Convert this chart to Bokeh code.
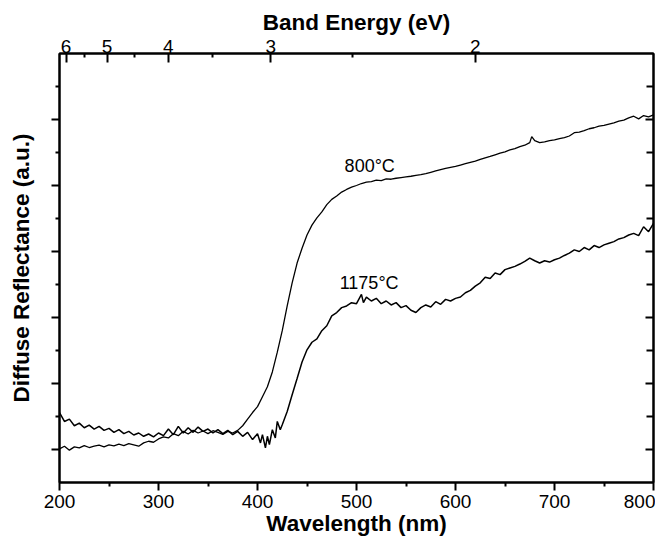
from bokeh.plotting import figure
from bokeh.models import LinearAxis, FixedTicker, Range1d, Label
from bokeh.embed import file_html
from bokeh.resources import INLINE

# ---------------- data ----------------
wl_800 = [200, 205, 210, 215, 220, 225, 230, 235, 240, 245, 250, 255, 260, 265, 270, 275, 280, 285, 290, 295,
          300, 305, 310, 315, 320, 325, 330, 335, 340, 345, 350, 355, 360, 365, 370, 375, 380, 385, 390, 395,
          400, 405, 410, 415, 420, 425, 430, 435, 440, 445, 450, 455, 460, 465, 470, 475, 480, 485, 490, 495,
          500, 505, 510, 515, 520, 525, 530, 535, 540, 545, 550, 555, 560, 565, 570, 575, 580, 585, 590, 595,
          600, 605, 610, 615, 620, 625, 630, 635, 640, 645, 650, 655, 660, 665, 670, 675, 677, 680, 685, 690,
          695, 700, 705, 710, 715, 720, 725, 730, 735, 740, 745, 750, 755, 760, 765, 770, 775, 780, 785, 790,
          795, 800]
refl_800 = [1.02, 1.10, 0.98, 1.08, 1.05, 1.12, 1.06, 1.10, 1.13, 1.08, 1.14, 1.11, 1.16, 1.12, 1.18, 1.14, 1.10, 1.20, 1.25, 1.22,
            1.32, 1.38, 1.35, 1.48, 1.42, 1.55, 1.47, 1.58, 1.50, 1.56, 1.48, 1.57, 1.52, 1.46, 1.55, 1.50, 1.58, 1.72, 1.92, 2.12,
            2.30, 2.60, 2.90, 3.35, 3.95, 4.60, 5.35, 6.05, 6.65, 7.10, 7.50, 7.80, 8.02, 8.20, 8.42, 8.58, 8.68, 8.80, 8.88, 8.95,
            9.00, 9.06, 9.10, 9.12, 9.16, 9.15, 9.20, 9.19, 9.22, 9.24, 9.26, 9.28, 9.31, 9.33, 9.36, 9.40, 9.44, 9.48, 9.52, 9.55,
            9.58, 9.62, 9.66, 9.70, 9.74, 9.79, 9.84, 9.88, 9.93, 9.98, 10.02, 10.08, 10.12, 10.18, 10.22, 10.30, 10.48, 10.36, 10.30, 10.32,
            10.36, 10.38, 10.42, 10.45, 10.50, 10.60, 10.62, 10.66, 10.72, 10.75, 10.80, 10.82, 10.86, 10.90, 10.95, 10.98, 11.05, 11.10, 11.02, 11.12,
            11.08, 11.14]

wl_1175 = [200, 205, 210, 215, 220, 225, 230, 235, 240, 245, 250, 255, 260, 265, 270, 275, 280, 285, 290, 295,
           300, 305, 310, 315, 320, 325, 330, 335, 340, 345, 350, 355, 360, 365, 370, 375, 380, 385, 390, 395,
           400, 403, 405, 408, 410, 412, 415, 418, 420, 423, 425, 430, 435, 440, 445, 450, 455, 460, 465, 470,
           475, 480, 485, 490, 495, 500, 505, 507, 510, 515, 520, 525, 530, 535, 540, 545, 550, 555, 560, 565,
           570, 575, 580, 585, 590, 595, 600, 605, 610, 615, 620, 625, 630, 635, 640, 645, 650, 655, 660, 665,
           670, 675, 680, 685, 690, 695, 700, 705, 710, 715, 720, 725, 730, 735, 740, 745, 750, 755, 760, 765,
           770, 775, 780, 785, 790, 795, 800]
refl_1175 = [2.12, 1.85, 1.92, 1.72, 1.80, 1.66, 1.74, 1.62, 1.70, 1.58, 1.64, 1.52, 1.60, 1.48, 1.55, 1.44, 1.50, 1.40, 1.47, 1.38,
             1.50, 1.42, 1.62, 1.45, 1.70, 1.50, 1.66, 1.52, 1.68, 1.55, 1.62, 1.50, 1.60, 1.48, 1.58, 1.45, 1.55, 1.40, 1.52, 1.30,
             1.48, 1.20, 1.45, 1.05, 1.40, 1.15, 1.60, 1.35, 1.85, 1.60, 1.75, 2.15, 2.66, 3.15, 3.65, 4.02, 4.25, 4.35, 4.60, 4.75,
             5.05, 5.15, 5.30, 5.35, 5.45, 5.42, 5.70, 5.45, 5.62, 5.50, 5.58, 5.42, 5.50, 5.38, 5.45, 5.30, 5.36, 5.22, 5.15, 5.30,
             5.38, 5.32, 5.48, 5.40, 5.55, 5.50, 5.58, 5.62, 5.75, 5.82, 5.95, 6.05, 6.22, 6.18, 6.35, 6.30, 6.45, 6.50, 6.55, 6.62,
             6.70, 6.80, 6.72, 6.65, 6.72, 6.68, 6.75, 6.80, 6.88, 6.95, 7.05, 7.00, 7.12, 7.05, 7.18, 7.12, 7.20, 7.25, 7.30, 7.38,
             7.42, 7.50, 7.55, 7.48, 7.75, 7.60, 7.85]

wl_ticks = [200, 300, 400, 500, 600, 700, 800]
wl_minor = [250, 350, 450, 550, 650, 750]
ev_ticks = [6, 5, 4, 3, 2]
ev_minor = [5.5, 4.5, 3.5, 2.5]
y_major = [1, 3, 5, 7, 9, 11]
y_minor = [2, 4, 6, 8, 10, 12]

labels = ["800\u00b0C", "1175\u00b0C"]
label_x = [488, 483]
label_y = [9.58, 6.05]

FONT = "Liberation Sans"

p = figure(width=655, height=538, output_backend="svg", toolbar_location=None,
           x_range=Range1d(200, 800), y_range=Range1d(0, 13),
           x_axis_location=None, y_axis_location=None,
           min_border_left=59, min_border_right=2, min_border_top=53, min_border_bottom=56)
p.xgrid.visible = False
p.ygrid.visible = False
p.outline_line_color = "black"
p.outline_line_width = 2
p.background_fill_color = "white"
p.border_fill_color = "white"

p.line(wl_800, refl_800, line_color="black", line_width=1.3)
p.line(wl_1175, refl_1175, line_color="black", line_width=1.5)

def style(ax):
    ax.axis_line_width = 2
    ax.major_tick_line_width = 2
    ax.minor_tick_line_width = 2
    ax.major_label_text_font = FONT
    ax.major_label_text_font_size = "19px"
    ax.major_label_text_color = "black"
    ax.axis_label_text_font = FONT
    ax.axis_label_text_font_style = "bold"
    ax.axis_label_text_font_size = "22.5px"
    ax.axis_label_text_color = "black"

# bottom
xb = LinearAxis(axis_label="Wavelength (nm)",
                ticker=FixedTicker(ticks=wl_ticks, minor_ticks=wl_minor))
style(xb)
xb.major_tick_out = 8
xb.major_tick_in = 0
xb.minor_tick_out = 4
xb.minor_tick_in = 0
xb.major_label_standoff = 4
xb.axis_label_standoff = 0
p.add_layout(xb, "below")

# top: band energy
top_pos = [1240.0 / e for e in ev_ticks]
top_minor = [1240.0 / e for e in ev_minor]
xt = LinearAxis(axis_label="Band Energy (eV)",
                ticker=FixedTicker(ticks=top_pos, minor_ticks=top_minor))
xt.major_label_overrides = {pos: str(e) for pos, e in zip(top_pos, ev_ticks)}
style(xt)
xt.major_tick_out = 0
xt.major_tick_in = 9
xt.minor_tick_out = 0
xt.minor_tick_in = 4
xt.major_label_standoff = 1
xt.axis_label_standoff = 2
p.add_layout(xt, "above")

# left (no tick labels)
yl = LinearAxis(axis_label="Diffuse Reflectance (a.u.)",
                ticker=FixedTicker(ticks=y_major, minor_ticks=y_minor))
style(yl)
yl.major_label_overrides = {t: "" for t in y_major}
yl.major_tick_out = 8
yl.major_tick_in = 0
yl.minor_tick_out = 4
yl.minor_tick_in = 0
yl.major_label_standoff = 0
yl.axis_label_standoff = 18
p.add_layout(yl, "left")

# right (mirror ticks, inward)
yr = LinearAxis(ticker=FixedTicker(ticks=y_major, minor_ticks=y_minor))
style(yr)
yr.major_label_overrides = {t: "" for t in y_major}
yr.major_label_standoff = 0
yr.major_tick_out = 0
yr.major_tick_in = 8
yr.minor_tick_out = 0
yr.minor_tick_in = 7
p.add_layout(yr, "right")

for t, lx, ly in zip(labels, label_x, label_y):
    p.add_layout(Label(x=lx, y=ly, text=t, text_font=FONT, text_font_size="18px",
                       text_color="black", text_baseline="alphabetic", text_align="left"))

open("out.html", "w").write(file_html(p, INLINE))
